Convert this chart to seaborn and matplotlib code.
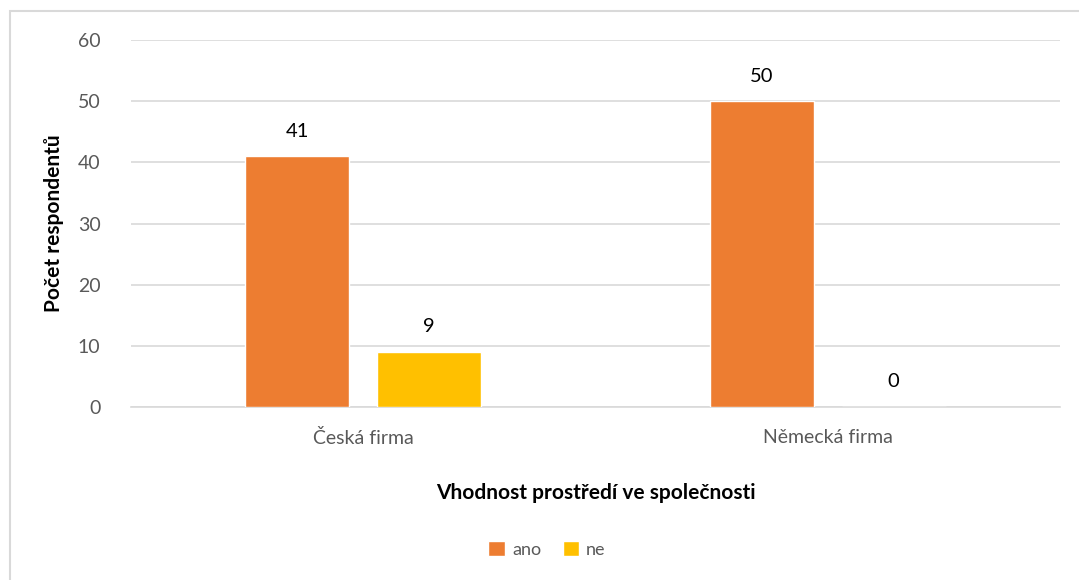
import pandas as pd
import seaborn as sns
import matplotlib.pyplot as plt
from matplotlib.patches import Rectangle

# data
firmy = ['Česká firma', 'Německá firma']
odpovedi = ['ano', 'ne']
ano = [41, 50]
ne = [9, 0]

data = pd.DataFrame({
    'firma': firmy * 2,
    'odpoved': ['ano'] * len(firmy) + ['ne'] * len(firmy),
    'pocet': ano + ne,
})

sns.set_theme(style='white')
plt.rcParams['font.family'] = ['Lato', 'DejaVu Sans']

fig = plt.figure(figsize=(10.79, 5.80), dpi=100)
ax = fig.add_axes([0.1214, 0.2983, 0.8610, 0.6327])

barvy = {'ano': '#ED7D31', 'ne': '#FFC000'}
sns.barplot(data=data, x='firma', y='pocet', hue='odpoved', hue_order=odpovedi,
            palette=barvy, width=0.568, gap=0.212, ax=ax, zorder=3,
            saturation=1, legend=True)

for cont in ax.containers:
    ax.bar_label(cont, padding=12, fontsize=14.5, color='black')

ax.set_ylim(0, 60)
ax.set_xlim(-0.5, 1.5)
ax.set_yticks(range(0, 61, 10))
ax.yaxis.grid(True, color='#D9D9D9', linewidth=1.2, zorder=0)
ax.set_axisbelow(True)
for s in ['top', 'right', 'left']:
    ax.spines[s].set_visible(False)
ax.spines['bottom'].set_color('#D9D9D9')
ax.spines['bottom'].set_linewidth(1.2)
ax.tick_params(axis='both', length=0, labelsize=14, labelcolor='#595959')
ax.tick_params(axis='y', pad=22)
ax.tick_params(axis='x', pad=16)

ax.set_xlabel('Vhodnost prostředí ve společnosti', fontsize=15, fontweight='bold',
              color='black', labelpad=26)
ax.set_ylabel('Počet respondentů', fontsize=15, fontweight='bold',
              color='black', labelpad=10)

ax.legend(loc='center', ncol=2, frameon=False, fontsize=13, handlelength=0.9,
          handleheight=0.9, handletextpad=0.4, columnspacing=1.2,
          labelcolor='#595959')
ax.legend_.set_bbox_to_anchor((0.507, 0.053), transform=fig.transFigure)

# chart border like the original export
fig.patches.append(Rectangle((10 / 1079, -0.1), 1.2, 1.1 - 11 / 580,
                             transform=fig.transFigure, fill=False,
                             edgecolor='#D9D9D9', linewidth=1.5))

fig.savefig('out.png', dpi=100)
